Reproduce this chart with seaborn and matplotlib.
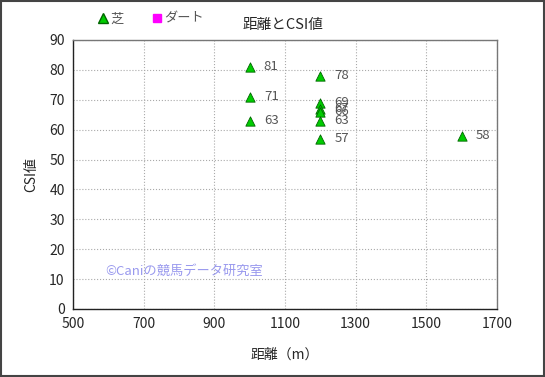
import pandas as pd
import seaborn as sns
import matplotlib.pyplot as plt
from matplotlib.lines import Line2D

# data
distance = [1000, 1000, 1000, 1200, 1200, 1200, 1200, 1200, 1200, 1600]
csi = [81, 71, 63, 78, 69, 67, 66, 63, 57, 58]
surface = ['芝'] * 10

df = pd.DataFrame({'距離': distance, 'CSI値': csi, 'surface': surface})

sns.set_style('white')
plt.rcParams['font.family'] = ['Noto Sans CJK JP', 'DejaVu Sans']

fig = plt.figure(figsize=(5.45, 3.77), dpi=100)
ax = fig.add_axes([73 / 545, (377 - 309) / 377, (497 - 73) / 545, (309 - 40) / 377])

sns.scatterplot(data=df, x='距離', y='CSI値', marker='^', color='#00cc00',
                edgecolor='#006600', linewidth=0.6, s=45, ax=ax, legend=False, zorder=3)

for x, y in zip(distance, csi):
    ax.text(x + 40, y, str(y), fontsize=9.5, color='#555555', va='center', ha='left')

ax.set_xlim(500, 1700)
ax.set_ylim(0, 90)
ax.set_xticks(range(500, 1701, 200))
ax.set_yticks(range(0, 91, 10))
ax.tick_params(labelsize=10, length=0, pad=6)
ax.grid(True, color='#aaaaaa', linestyle=':', linewidth=0.8)
for s in ax.spines.values():
    s.set_color('#777777')
    s.set_linewidth(1)
ax.spines['left'].set_color('#222222')
ax.spines['bottom'].set_color('#222222')

ax.set_xlabel('距離（m）', fontsize=10, labelpad=12)
ax.set_ylabel('CSI値', fontsize=10, labelpad=8)

ax.text(590, 12.5, '©Caniの競馬データ研究室', color='#9999ee', fontsize=9.5, va='center')

fig.text(283 / 545, 1 - 25 / 377, '距離とCSI値', fontsize=10.5, ha='center', va='center')

handles = [
    Line2D([], [], marker='^', linestyle='', color='#00cc00', markeredgecolor='#006600',
           markersize=7, label='芝'),
    Line2D([], [], marker='s', linestyle='', color='#ff00ff', markeredgecolor='#ff00ff',
           markersize=6, label='ダート'),
]
fig.legend(handles=handles, loc='center left', bbox_to_anchor=(98 / 545, 1 - 19 / 377),
           ncol=2, frameon=False, fontsize=9.5, handlelength=0.8, handletextpad=0.1,
           columnspacing=2.2, borderpad=0, borderaxespad=0, labelcolor='#555555')

# outer frame
fig.patches.append(plt.Rectangle((0.002, 0.003), 0.996, 0.994, transform=fig.transFigure,
                                 fill=False, edgecolor='#444444', linewidth=1.5))

fig.savefig('out.png', dpi=100)
